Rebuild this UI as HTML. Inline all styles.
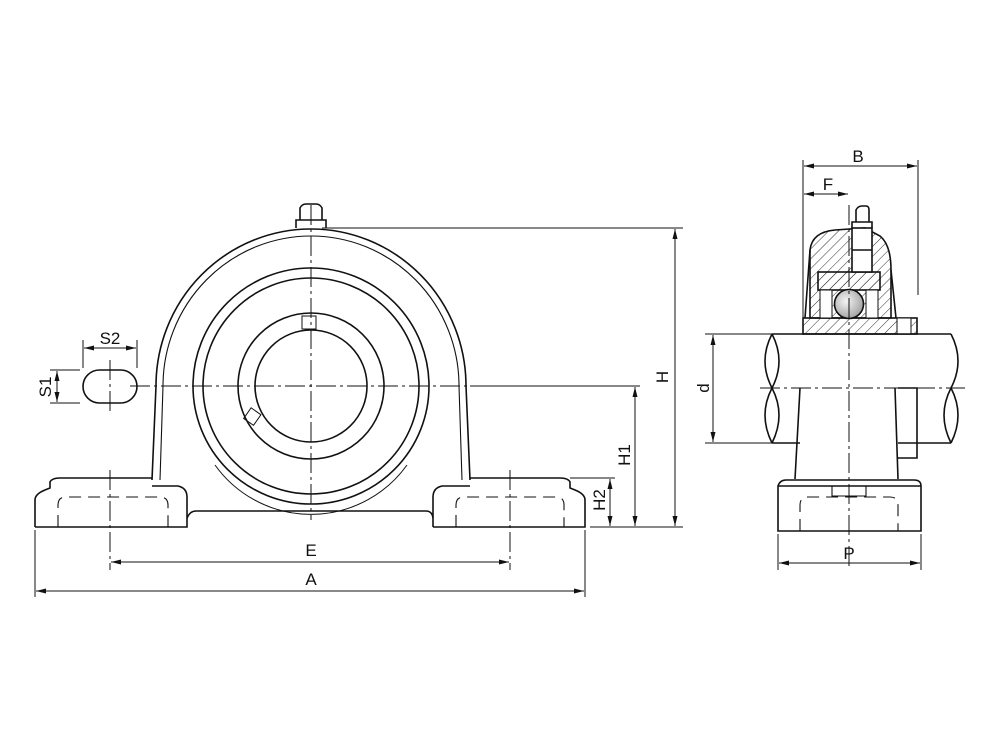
<!DOCTYPE html>
<html><head><meta charset="utf-8"><style>
html,body{margin:0;padding:0;background:#fff;}
svg{display:block;}
text{font-family:"Liberation Sans",sans-serif;font-size:17px;fill:#111;}
</style></head><body>
<svg width="1000" height="750" viewBox="0 0 1000 750" xmlns="http://www.w3.org/2000/svg">
<defs>
<marker id="ar" markerWidth="10" markerHeight="6" refX="10" refY="3" orient="auto-start-reverse" markerUnits="userSpaceOnUse"><path d="M0,0.5 L10,3 L0,5.5 z" fill="#111"/></marker>
<pattern id="hatch" width="7" height="7" patternUnits="userSpaceOnUse" patternTransform="rotate(45)"><line x1="0" y1="0" x2="0" y2="7" stroke="#333" stroke-width="1"/></pattern>
<radialGradient id="ball" cx="0.4" cy="0.4" r="0.7"><stop offset="0" stop-color="#f4f4f4"/><stop offset="1" stop-color="#999"/></radialGradient>
</defs>
<g fill="none" stroke="#111" stroke-width="1.6">
<!-- LEFT VIEW housing -->
<path d="M152,480 L156,386 A155,157 0 0 1 466,386 L470,480"/>
<path d="M160,480 L163,386 A148,150 0 0 1 459,386 L462,480" stroke-width="1.1"/>
<circle cx="311" cy="386" r="118"/>
<circle cx="311" cy="386" r="108"/>
<circle cx="311" cy="386" r="73"/>
<circle cx="311" cy="386" r="56"/>
<path d="M215,465 A118,118 0 0 0 407,465" stroke-width="1"/>
<rect x="302" y="316" width="14" height="13" stroke-width="1"/>
<rect x="246" y="411" width="13" height="12" transform="rotate(-55 252 417)" stroke-width="1"/>
<!-- grease nipple -->
<path d="M296,228 L296,220 L326,220 L326,228 M300,220 L300,208 Q302,204 306,204 L316,204 Q320,204 322,208 L322,220"/>
<!-- base -->
<path d="M35,527 L35,500 Q35,494 45,490 L50,488 L50,482 Q52,478 60,478 L152,478 M35,527 L187,527 L187,497 Q187,488 178,486 L152,486"/>
<path d="M187,518 Q190,511 196,511 L426,511 Q432,511 433,518"/>
<path d="M433,527 L585,527 L585,500 Q585,494 575,490 L570,488 L570,482 Q568,478 560,478 L470,478 M433,527 L433,497 Q433,488 442,486 L470,486"/>
<path d="M58,527 L58,505 Q58,497 66,497 L160,497 Q168,497 168,505 L168,527" stroke-dasharray="12,7" stroke-width="1.1"/>
<path d="M456,527 L456,505 Q456,497 464,497 L556,497 Q564,497 564,505 L564,527" stroke-dasharray="12,7" stroke-width="1.1"/>
<!-- slot -->
<rect x="83" y="370" width="54" height="33" rx="16.5"/>
</g>
<g fill="none" stroke="#111" stroke-width="1">
<!-- centerlines -->
<path d="M130,386 L640,386 M311,205 L311,520 M110,470 L110,570 M510,470 L510,570 M110,360 L110,412" stroke-dasharray="20,4,3,4"/>
<!-- extension lines -->
<path d="M322,228 L683,228 M590,527 L683,527 M470,386 L640,386 M570,478 L615,478 M35,530 L35,597 M585,530 L585,597 M83,340 L83,368 M137,340 L137,368 M50,370 L80,370 M50,403 L80,403"/>
<!-- dimension lines -->
<line x1="675" y1="229" x2="675" y2="526" marker-start="url(#ar)" marker-end="url(#ar)"/>
<line x1="635" y1="387" x2="635" y2="526" marker-start="url(#ar)" marker-end="url(#ar)"/>
<line x1="610" y1="479" x2="610" y2="526" marker-start="url(#ar)" marker-end="url(#ar)"/>
<line x1="111" y1="562" x2="509" y2="562" marker-start="url(#ar)" marker-end="url(#ar)"/>
<line x1="36" y1="591" x2="584" y2="591" marker-start="url(#ar)" marker-end="url(#ar)"/>
<line x1="84" y1="348" x2="136" y2="348" marker-start="url(#ar)" marker-end="url(#ar)"/>
<line x1="57" y1="371" x2="57" y2="402" marker-start="url(#ar)" marker-end="url(#ar)"/>
</g>
<text x="311" y="556" text-anchor="middle">E</text>
<text x="311" y="585" text-anchor="middle">A</text>
<text x="110" y="344" text-anchor="middle">S2</text>
<text transform="translate(51,387) rotate(-90)" text-anchor="middle">S1</text>
<text transform="translate(668,377) rotate(-90)" text-anchor="middle">H</text>
<text transform="translate(630,455) rotate(-90)" text-anchor="middle">H1</text>
<text transform="translate(605,500) rotate(-90)" text-anchor="middle">H2</text>

<!-- RIGHT VIEW -->
<g stroke="#111" stroke-width="1.6">
<path d="M810,318 L810,250 Q812,232 835,230 L865,228 L880,236 Q891,245 891,270 L891,318 Z" fill="url(#hatch)"/>
<rect x="818" y="272" width="62" height="18" fill="url(#hatch)"/>
<rect x="803" y="318" width="114" height="16" fill="url(#hatch)"/>
<rect x="852" y="228" width="20" height="44" fill="#fff"/>
<line x1="852" y1="250" x2="872" y2="250"/>
<rect x="820" y="290" width="12" height="28" fill="#fff" stroke-width="1"/>
<rect x="866" y="290" width="12" height="28" fill="#fff" stroke-width="1"/>
<circle cx="849" cy="304" r="14.5" fill="url(#ball)"/>
<rect x="897" y="318" width="14" height="16" fill="#fff" stroke-width="1"/>
<path d="M852,228 L852,222 L872,222 L872,228 M856,222 L856,210 Q858,206 862,206 L866,206 Q869,206 869,210 L869,222" fill="none"/>
</g>
<g fill="none" stroke="#111" stroke-width="1.6">
<path d="M805,318 L810,250 M896,318 L891,270"/>
<!-- shaft -->
<path d="M772,334 L951,334 M772,443 L800,443 M898,443 L951,443"/>
<path d="M772,334 Q758,361 772,388 Q758,415 772,443 M772,334 Q786,361 772,388 Q786,415 772,443"/>
<path d="M951,334 Q965,361 951,388 Q965,415 951,443 M951,388 Q937,415 951,443"/>
<!-- pedestal -->
<path d="M800,388 L795,479 M895,388 L898,479"/>
<path d="M898,388 L917,388 L917,458 L898,458"/>
<path d="M778,531 L778,486 Q780,480 786,480 L914,480 Q921,480 921,486 L921,531 Z M778,486 L921,486"/>
<path d="M832,486 L832,496 L866,496 L866,486" stroke-width="1.1"/>
<path d="M800,531 L800,505 Q800,497 808,497 L890,497 Q898,497 898,505 L898,531" stroke-dasharray="12,7" stroke-width="1.1"/>
</g>
<g fill="none" stroke="#111" stroke-width="1">
<path d="M849,205 L849,570 M760,388 L965,388" stroke-dasharray="20,4,3,4"/>
<path d="M803,160 L803,318 M918,160 L918,295 M705,334 L772,334 M705,443 L772,443 M778,534 L778,570 M921,534 L921,570"/>
<line x1="804" y1="166" x2="917" y2="166" marker-start="url(#ar)" marker-end="url(#ar)"/>
<line x1="804" y1="194" x2="848" y2="194" marker-start="url(#ar)" marker-end="url(#ar)"/>
<line x1="713" y1="335" x2="713" y2="442" marker-start="url(#ar)" marker-end="url(#ar)"/>
<line x1="779" y1="563" x2="920" y2="563" marker-start="url(#ar)" marker-end="url(#ar)"/>
</g>
<text x="858" y="162" text-anchor="middle">B</text>
<text x="828" y="190" text-anchor="middle">F</text>
<text transform="translate(709,388) rotate(-90)" text-anchor="middle">d</text>
<text x="849" y="559" text-anchor="middle">P</text>
</svg>
</body></html>
